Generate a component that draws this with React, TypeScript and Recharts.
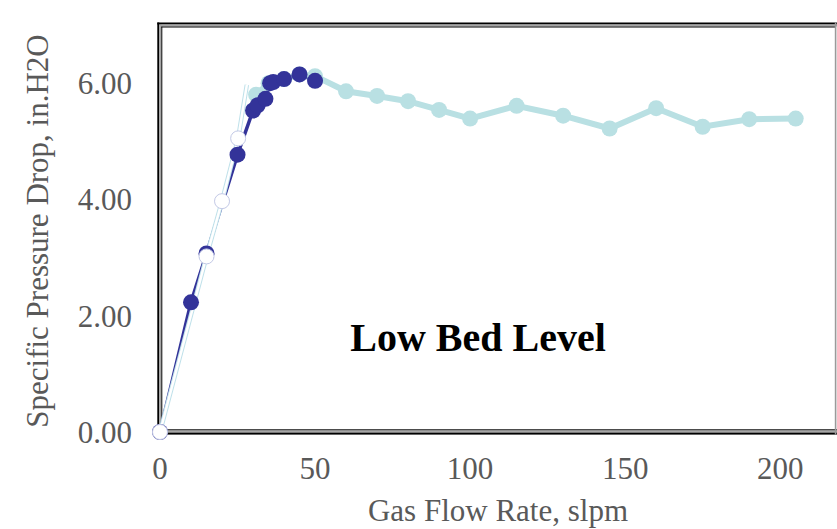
import { LineChart, Line, XAxis, YAxis, Label } from 'recharts';

// light blue run (full range)
const lightFlow = [31, 35, 40, 45, 50, 60, 70, 80, 90, 100, 115, 130, 145, 160, 175, 190, 205];
const lightDrop = [5.8, 6.0, 6.07, 6.15, 6.12, 5.86, 5.78, 5.69, 5.54, 5.39, 5.61, 5.44, 5.22, 5.57, 5.25, 5.38, 5.39];

// dark blue run
const darkFlow = [0, 10, 15, 25, 30, 31.5, 34, 35.5, 36.5, 40, 45, 50];
const darkDrop = [0, 2.23, 3.07, 4.77, 5.53, 5.62, 5.73, 6.0, 6.02, 6.07, 6.15, 6.04];

// white (outlined) run
const whiteFlow = [0, 15, 20, 25.2, 28];
const whiteDrop = [0, 3.02, 3.97, 5.05, 5.97];

const xTicks = [0, 50, 100, 150, 200];
const yTicks = [0, 2, 4, 6];

const toRows = (xs: number[], ys: number[]) => xs.map((x, i) => ({ x, y: ys[i] }));

const lightData = toRows(lightFlow, lightDrop);
const darkData = toRows(darkFlow, darkDrop);
const whiteData = toRows(whiteFlow, whiteDrop);

const FONT = '"Liberation Serif", "Times New Roman", serif';
const GRAY = '#595959';

const whiteDot = (props: any) => {
  const { cx, cy, index } = props;
  if (index === whiteData.length - 1) return <g key={`wd-${index}`} />;
  return <circle key={`wd-${index}`} cx={cx} cy={cy} r={7.5} fill="#ffffff" stroke="#c3c9e6" strokeWidth={1} />;
};

const yTitle = () => (
  <text
    x={48}
    y={231}
    transform="rotate(-90, 48, 231)"
    textAnchor="middle"
    fill={GRAY}
    fontSize={31}
    fontFamily={FONT}
  >
    Specific Pressure Drop, in.H2O
  </text>
);

export default function App() {
  return (
    <div style={{ position: 'absolute', left: 0, top: 0, width: 837, height: 529, background: '#fff' }}>
      {/* plot frame + annotation */}
      <svg width={837} height={529} style={{ position: 'absolute', left: 0, top: 0 }}>
        <rect x={157.3} y={22.5} width={2} height={412} fill="#000" />
        <rect x={159.3} y={24.5} width={2} height={408} fill="#a6a6a6" />
        <rect x={161.3} y={26.5} width={1} height={403} fill="#000" />
        <rect x={157.3} y={22.5} width={680} height={2} fill="#000" />
        <rect x={159.3} y={24.5} width={678} height={2} fill="#a6a6a6" />
        <rect x={161.3} y={26.5} width={674} height={1} fill="#000" />
        <rect x={161.3} y={429.3} width={676} height={1.2} fill="#000" />
        <rect x={159.3} y={430.6} width={678} height={2} fill="#a6a6a6" />
        <rect x={157.3} y={432.6} width={680} height={2} fill="#000" />
        <rect x={834.8} y={22.5} width={1.6} height={412} fill="#9a9a9a" />
        <text x={478} y={351} textAnchor="middle" fontWeight="bold" fontSize={40} fontFamily={FONT} fill="#000">
          Low Bed Level
        </text>
      </svg>
      <div style={{ position: 'absolute', left: 0, top: 0 }}>
        <LineChart width={837} height={529} margin={{ top: 25, right: 1, left: 0, bottom: 0 }}>
          <XAxis
            dataKey="x"
            type="number"
            domain={[0, 218]}
            ticks={xTicks}
            axisLine={false}
            tickLine={false}
            tickSize={0}
            tickMargin={25}
            height={97}
            tick={{ fill: GRAY, fontSize: 31, fontFamily: FONT }}
            allowDuplicatedCategory={false}
          >
            <Label
              value="Gas Flow Rate, slpm"
              position="insideBottom"
              offset={8}
              fill={GRAY}
              fontSize={31}
              fontFamily={FONT}
            />
          </XAxis>
          <YAxis
            type="number"
            domain={[0, 7]}
            ticks={yTicks}
            axisLine={false}
            tickLine={false}
            tickSize={0}
            tickMargin={28}
            width={160}
            tickFormatter={(v: number) => v.toFixed(2)}
            tick={{ fill: GRAY, fontSize: 31, fontFamily: FONT }}
          >
            <Label content={yTitle} />
          </YAxis>
          <Line
            data={lightData}
            dataKey="y"
            stroke="#b9e0e3"
            strokeWidth={6}
            dot={{ r: 8, fill: '#b9e0e3', stroke: 'none' }}
            isAnimationActive={false}
          />
          <Line
            data={darkData}
            dataKey="y"
            stroke="#333399"
            strokeWidth={3.5}
            dot={{ r: 8, fill: '#333399', stroke: 'none' }}
            isAnimationActive={false}
          />
          <Line
            data={whiteData}
            dataKey="y"
            stroke="#bfe1ea"
            strokeWidth={4.5}
            dot={false}
            isAnimationActive={false}
          />
          <Line
            data={whiteData}
            dataKey="y"
            stroke="#ffffff"
            strokeWidth={2.5}
            dot={whiteDot}
            isAnimationActive={false}
          />
        </LineChart>
      </div>
    </div>
  );
}
